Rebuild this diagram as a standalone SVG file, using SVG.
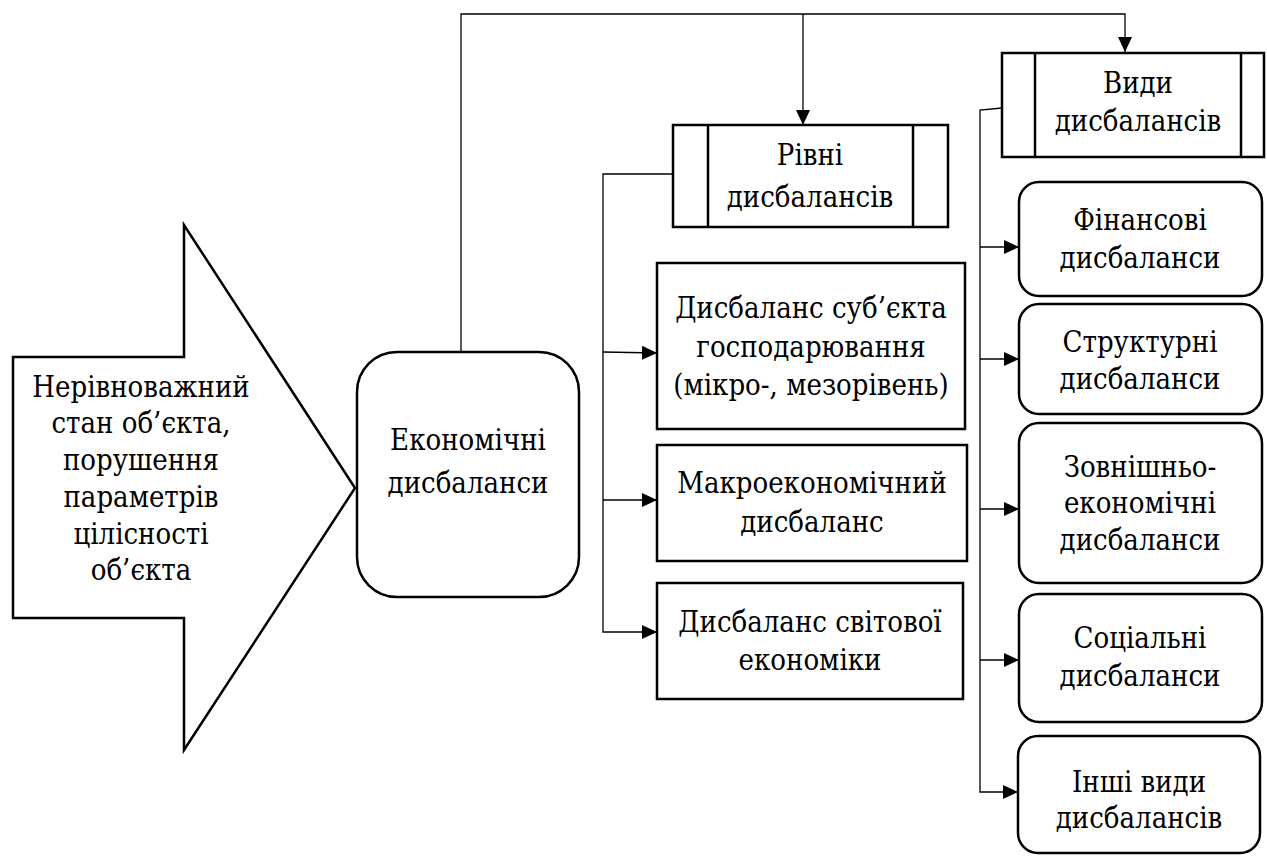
<svg xmlns="http://www.w3.org/2000/svg" width="1267" height="859" viewBox="0 0 1267 859">
<style>
.box{fill:#fff;stroke:#000;stroke-width:2.5}
.ln{fill:none;stroke:#000;stroke-width:1.3}
.t{font-family:'DejaVu Serif','Liberation Serif',serif;font-stretch:condensed;font-size:29px;fill:#000;text-anchor:middle}
</style>
<defs>
<marker id="ah" markerUnits="userSpaceOnUse" markerWidth="16" markerHeight="14" refX="15" refY="7" orient="auto">
<path d="M0,0 L15,7 L0,14 Z" fill="#000"/>
</marker>
</defs>
<rect width="1267" height="859" fill="#fff"/>
<g id="connectors">
<polyline class="ln" points="461,352 461,14 1125,14 1125,52" marker-end="url(#ah)"/>
<line class="ln" x1="803" y1="14" x2="803" y2="125" marker-end="url(#ah)"/>
<polyline class="ln" points="673,174 603,174 603,632 657,632" marker-end="url(#ah)"/>
<line class="ln" x1="603" y1="352" x2="657" y2="353" marker-end="url(#ah)"/>
<line class="ln" x1="603" y1="500" x2="657" y2="500" marker-end="url(#ah)"/>
<polyline class="ln" points="1002,108 980,110 980,792 1018,792" marker-end="url(#ah)"/>
<line class="ln" x1="980" y1="247" x2="1019" y2="247" marker-end="url(#ah)"/>
<line class="ln" x1="980" y1="359" x2="1019" y2="359" marker-end="url(#ah)"/>
<line class="ln" x1="980" y1="509" x2="1019" y2="509" marker-end="url(#ah)"/>
<line class="ln" x1="980" y1="660" x2="1019" y2="660" marker-end="url(#ah)"/>
</g>
<g class="t">
<g id="n-arrow">
<polygon class="box" points="13,357 184,357 184,225 355,488 184,750 184,618 13,618"/>
<text x="141" y="397">Нерівноважний</text>
<text x="141" y="433">стан об’єкта,</text>
<text x="141" y="470">порушення</text>
<text x="141" y="507">параметрів</text>
<text x="141" y="544">цілісності</text>
<text x="141" y="580">об’єкта</text>
</g>
<g id="n-econ">
<rect class="box" x="357" y="352" width="222" height="245" rx="40"/>
<text x="468" y="450">Економічні</text>
<text x="468" y="493">дисбаланси</text>
</g>
<g id="n-rivni">
<rect class="box" x="673" y="125" width="275" height="102"/>
<line class="box" x1="708" y1="125" x2="708" y2="227"/>
<line class="box" x1="913" y1="125" x2="913" y2="227"/>
<text x="810" y="165">Рівні</text>
<text x="810" y="207">дисбалансів</text>
</g>
<g id="n-vydy">
<rect class="box" x="1002" y="53" width="262" height="104"/>
<line class="box" x1="1035" y1="53" x2="1035" y2="157"/>
<line class="box" x1="1241" y1="53" x2="1241" y2="157"/>
<text x="1138" y="93">Види</text>
<text x="1138" y="131">дисбалансів</text>
</g>
<g id="n-subj">
<rect class="box" x="657" y="263" width="308" height="166"/>
<text x="811" y="318">Дисбаланс суб’єкта</text>
<text x="811" y="357">господарювання</text>
<text x="811" y="395">(мікро-, мезорівень)</text>
</g>
<g id="n-macro">
<rect class="box" x="657" y="445" width="310" height="116"/>
<text x="812" y="493">Макроекономічний</text>
<text x="812" y="532">дисбаланс</text>
</g>
<g id="n-world">
<rect class="box" x="657" y="583" width="306" height="116"/>
<text x="810" y="632">Дисбаланс світової</text>
<text x="810" y="670">економіки</text>
</g>
<g id="n-fin">
<rect class="box" x="1019" y="182" width="243" height="114" rx="20"/>
<text x="1140" y="230">Фінансові</text>
<text x="1140" y="268">дисбаланси</text>
</g>
<g id="n-struct">
<rect class="box" x="1019" y="304" width="243" height="110" rx="20"/>
<text x="1140" y="352">Структурні</text>
<text x="1140" y="389">дисбаланси</text>
</g>
<g id="n-zovn">
<rect class="box" x="1019" y="423" width="243" height="160" rx="20"/>
<text x="1140" y="477">Зовнішньо-</text>
<text x="1140" y="513">економічні</text>
<text x="1140" y="550">дисбаланси</text>
</g>
<g id="n-soc">
<rect class="box" x="1019" y="594" width="243" height="128" rx="20"/>
<text x="1140" y="648">Соціальні</text>
<text x="1140" y="686">дисбаланси</text>
</g>
<g id="n-inshi">
<rect class="box" x="1018" y="736" width="242" height="117" rx="20"/>
<text x="1139" y="792">Інші види</text>
<text x="1139" y="828">дисбалансів</text>
</g>
</g>
</svg>
